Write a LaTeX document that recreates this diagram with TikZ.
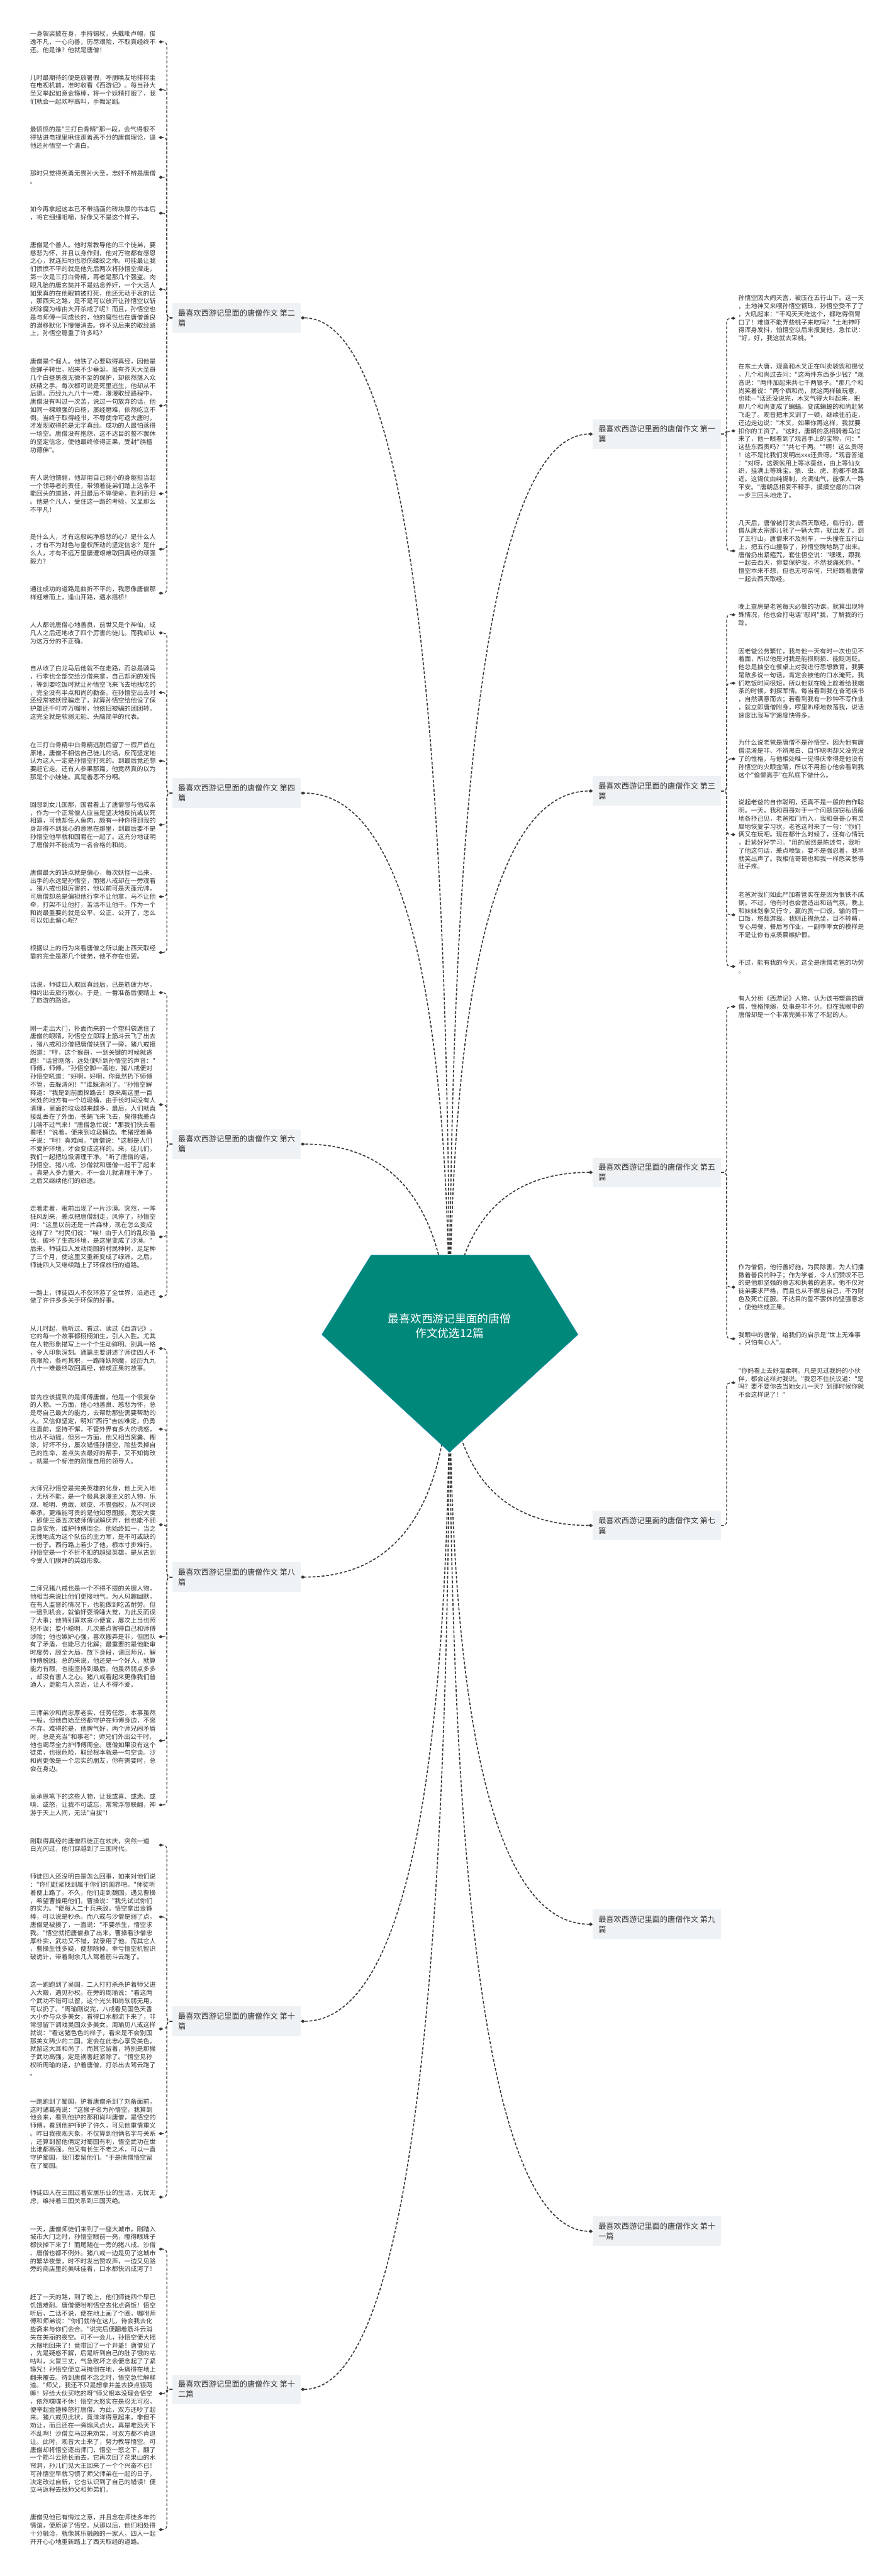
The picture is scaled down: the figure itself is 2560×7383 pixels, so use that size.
\documentclass[tikz,border=0pt]{standalone}
\usepackage{fontspec}
\newfontfamily\cjk{Noto Sans CJK SC}
\usepackage{tikz}
\usetikzlibrary{arrows.meta,calc,positioning}
\definecolor{HexTeal}{HTML}{00897B}
\definecolor{HexEdge}{HTML}{2B8FB8}
\definecolor{TagFill}{HTML}{EFF2F5}
\definecolor{InkGray}{HTML}{333333}
\definecolor{WireGray}{HTML}{3A3A3A}

\begin{document}
\begin{tikzpicture}[
  x=0.5pt,y=-0.5pt,
  every node/.style={font=\cjk},
  txt/.style={font=\cjk\fontsize{9pt}{11.5pt}\selectfont,text=InkGray,text width=180pt,
    align=left,inner xsep=4pt,inner ysep=0pt,anchor=west},
  tag/.style={font=\cjk\fontsize{11pt}{14.5pt}\selectfont,text=InkGray,fill=TagFill,
    align=left,inner xsep=8pt,minimum height=42.5pt},
  link/.style={WireGray,line width=1.5pt,dash pattern=on 4pt off 2.5pt,-{Diamond[length=6pt,width=5pt]}},
  twig/.style={WireGray,line width=1.1pt,dash pattern=on 4pt off 2.5pt,rounded corners=5pt,
    -{Diamond[length=6pt,width=4.5pt]}},
  quad/.style={to path={.. controls ($(\tikztostart)!.667!(\tikztostart|-\tikztotarget)$)
    and ($(\tikztotarget)!.667!(\tikztostart|-\tikztotarget)$) .. (\tikztotarget)}}
]
\fill[white] (0,0) rectangle (2560,7383);
\useasboundingbox (0,0) rectangle (2560,7383);
\coordinate (hub) at (1288,3880);

\node[tag,anchor=west] (art2) at (494,911) {最喜欢西游记里面的唐僧作文 第二\\篇};
\node[tag,anchor=west] (art4) at (494,2273) {最喜欢西游记里面的唐僧作文 第四\\篇};
\node[tag,anchor=west] (art6) at (494,3279) {最喜欢西游记里面的唐僧作文 第六\\篇};
\node[tag,anchor=west] (art8) at (494,4520) {最喜欢西游记里面的唐僧作文 第八\\篇};
\node[tag,anchor=west] (art10) at (494,5793) {最喜欢西游记里面的唐僧作文 第十\\篇};
\node[tag,anchor=west] (art12) at (494,6848) {最喜欢西游记里面的唐僧作文 第十\\二篇};
\node[tag,anchor=east] (art1) at (2066,1244) {最喜欢西游记里面的唐僧作文 第一\\篇};
\node[tag,anchor=east] (art3) at (2066,2267) {最喜欢西游记里面的唐僧作文 第三\\篇};
\node[tag,anchor=east] (art5) at (2066,3360) {最喜欢西游记里面的唐僧作文 第五\\篇};
\node[tag,anchor=east] (art7) at (2066,4372) {最喜欢西游记里面的唐僧作文 第七\\篇};
\node[tag,anchor=east] (art9) at (2066,5515) {最喜欢西游记里面的唐僧作文 第九\\篇};
\node[tag,anchor=east] (art11) at (2066,6395) {最喜欢西游记里面的唐僧作文 第十\\一篇};

\node[txt] (t2a) at (78,120) {一身袈裟披在身，手持锡杖，头戴毗卢帽，俊\\逸不凡，一心向善，历尽艰险，不取真经终不\\还。他是谁？他就是唐僧！};
\node[txt] (t2b) at (78,257) {儿时最期待的便是放暑假，呼朋唤友地排排坐\\在电视机前，准时收看《西游记》。每当孙大\\圣又举起如意金箍棒，将一个妖精打服了，我\\们就会一起欢呼高叫，手舞足蹈。};
\node[txt] (t2c) at (78,394) {最愤愤的是"三打白骨精"那一段，会气得恨不\\得钻进电视里揪住那善恶不分的唐僧理论，逼\\他还孙悟空一个清白。};
\node[txt] (t2d) at (78,508) {那时只觉得英勇无畏孙大圣，忠奸不辨是唐僧\\。};
\node[txt] (t2e) at (78,611) {如今再拿起这本已不带插画的砖块厚的书本后\\，将它细细咀嚼，好像又不是这个样子。};
\node[txt] (t2f) at (78,829) {唐僧是个善人。他时常教导他的三个徒弟，要\\慈悲为怀，并且以身作则，他对万物都有感恩\\之心，就连扫地也恐伤蝼蚁之命。可能最让我\\们愤愤不平的就是他先后两次将孙悟空撵走，\\第一次是三打白骨精，再者是那几个强盗。肉\\眼凡胎的唐玄奘并不是姑息养奸，一个大活人\\如果真的在他眼前被打死，他还无动于衷的话\\，那西天之路，是不是可以放开让孙悟空以斩\\妖除魔为缘由大开杀戒了呢？而且，孙悟空也\\是与师傅一同成长的，他的魔性也在唐僧善良\\的潜移默化下慢慢消去。你不见后来的取经路\\上，孙悟空稳重了许多吗？};
\node[txt] (t2g) at (78,1163) {唐僧是个倔人。他铁了心要取得真经，因他是\\金蝉子转世，招来不少垂涎。虽有齐天大圣哥\\几个白昼黑夜无微不至的保护，却依然落入众\\妖精之手。每次都可说是死里逃生，他却从不\\后退。历经九九八十一难，漫漫取经路程中，\\唐僧没有叫过一次苦，说过一句放弃的话，他\\如同一棵顽强的白杨，屡经磨难，依然屹立不\\倒。当终于取得经书，不辱使命可返大唐时，\\才发现取得的是无字真经。成功的人最怕落得\\一场空。唐僧没有抱怨，这不达目的誓不罢休\\的坚定信念，使他最终修得正果，受封"旃檀\\功德佛"。};
\node[txt] (t2h) at (78,1415) {有人说他懦弱，他却用自己弱小的身躯担当起\\一个领导者的责任，带领着徒弟们踏上这条不\\能回头的道路，并且最后不辱使命，胜利而归\\。他是个凡人，受住这一路的考验，又显那么\\不平凡！};
\node[txt] (t2i) at (78,1574) {是什么人，才有这般纯净慈悲的心？是什么人\\，才有不为财色与皇权所动的坚定信念？是什\\么人，才有不远万里屡遭艰难取回真经的顽强\\毅力？};
\node[txt] (t2j) at (78,1700) {通往成功的道路是曲折不平的，我愿像唐僧那\\样迎难而上，逢山开路，遇水搭桥！};

\node[txt] (t4a) at (78,1814) {人人都说唐僧心地善良，前世又是个神仙，成\\凡人之后还地收了四个厉害的徒儿。而我却认\\为这万分的不正确。};
\node[txt] (t4b) at (78,1985) {自从收了白龙马后他就不在走路，而总是骑马\\，行李也全部交给沙僧来拿，自己却闲的发慌\\，等到要吃饭时就让孙悟空飞来飞去地找吃的\\，完全没有半点和尚的勤奋。在孙悟空出去时\\还经常被妖怪骗走了，就算孙悟空给他设了保\\护罩还千叮咛万嘱咐，他依旧被骗的团团转。\\这完全就是软弱无能、头脑简单的代表。};
\node[txt] (t4c) at (78,2181) {在三打白骨精中白骨精逃脱后留了一假尸首在\\原地，唐僧不相信自己徒儿的话，反而坚定地\\认为这人一定是孙悟空打死的。到最后竟还想\\要赶它走。还有人参果那篇，他竟然真的以为\\那是个小娃娃。真是善恶不分啊。};
\node[txt] (t4d) at (78,2364) {回想到女儿国那，国君看上了唐僧想与他成亲\\，作为一个正常僧人应当是坚决地反抗或以死\\相逼，可他却任人鱼肉，颇有一种你得到我的\\身却得不到我心的意思在那里，到最后要不是\\孙悟空他早就和国君在一起了。这充分地证明\\了唐僧并不能成为一名合格的和尚。};
\node[txt] (t4e) at (78,2570) {唐僧最大的缺点就是偏心，每次妖怪一出来，\\出手的永远是孙悟空，而猪八戒却在一旁观看\\。猪八戒也挺厉害的，他以前可是天蓬元帅，\\可唐僧却总是偏袒他行李不让他拿，马不让他\\牵，打架不让他打，苦活不让他干。作为一个\\和尚最重要的就是公平、公正、公开了，怎么\\可以如此偏心呢？};
\node[txt] (t4f) at (78,2730) {根据以上的行为来看唐僧之所以能上西天取经\\靠的完全是那几个徒弟，他不存在也罢。};

\node[txt] (t6a) at (78,2845) {话说，师徒四人取回真经后，已是筋疲力尽，\\相约出去旅行散心。于是，一番准备后便踏上\\了旅游的路途。};
\node[txt] (t6b) at (78,3166) {刚一走出大门，扑面而来的一个塑料袋遮住了\\唐僧的眼睛，孙悟空立即踩上筋斗云飞了出去\\，猪八戒和沙僧把唐僧扶到了一旁，猪八戒报\\怨道："哼，这个猴哥，一到关键的时候就逃\\跑！"话音刚落，远处便听到孙悟空的声音："\\师傅，师傅。"孙悟空脚一落地，猪八戒便对\\孙悟空吼道："好啊，好啊，你竟然扔下师傅\\不管，去躲清闲！""谁躲清闲了。"孙悟空解\\释道："我是到前面探路去！原来离这里一百\\米处的地方有一个垃圾桶，由于长时间没有人\\清理，里面的垃圾越来越多，最后，人们就直\\接乱丢在了外面，苍蝇飞来飞去，臭得我差点\\儿喘不过气来！"唐僧急忙说："那我们快去看\\看吧！"说着，便来到垃圾桶边。老猪捏着鼻\\子说："呵！真难闻。"唐僧说："这都是人们\\不爱护环境，才会变成这样的。来，徒儿们，\\我们一起把垃圾清理干净。"听了唐僧的话，\\孙悟空、猪八戒、沙僧就和唐僧一起干了起来\\。真是人多力量大，不一会儿就清理干净了，\\之后又继续他们的旅途。};
\node[txt] (t6c) at (78,3545) {走着走着，眼前出现了一片沙漠。突然，一阵\\狂风刮来，差点把唐僧刮走，风停了，孙悟空\\问："这里以前还是一片森林，现在怎么变成\\这样了？"村民们说："唉！由于人们的乱砍滥\\伐，破坏了生态环境，是这里变成了沙漠。"\\后来，师徒四人发动周围的村民种树，足足种\\了三个月，使这里又重新变成了绿洲。之后，\\师徒四人又继续踏上了环保旅行的道路。};
\node[txt] (t6d) at (78,3716) {一路上，师徒四人不仅环游了全世界，沿途还\\做了许许多多关于环保的好事。};

\node[txt] (t8a) at (78,3865) {从儿时起，就听过、看过、读过《西游记》。\\它的每一个故事都栩栩如生，引人入胜。尤其\\在人物形象描写上一个个生动鲜明、别具一格\\，令人印象深刻。通篇主要讲述了师徒四人不\\畏艰险，各司其职，一路降妖除魔，经历九九\\八十一难最终取回真经，修成正果的故事。};
\node[txt] (t8b) at (78,4096) {首先应该提到的是师傅唐僧，他是一个很复杂\\的人物。一方面，他心地善良、慈悲为怀，总\\是尽自己最大的能力，去帮助那些需要帮助的\\人。又信仰坚定，明知"西行"吉凶难定，仍勇\\往直前，坚持不懈，不管外界有多大的诱惑，\\也从不动摇。但另一方面，他又相当窝囊、糊\\涂，好坏不分，屡次错怪孙悟空，险些丢掉自\\己的性命，差点失去最好的帮手，又不知悔改\\。就是一个标准的刚愎自用的领导人。};
\node[txt] (t8c) at (78,4370) {大师兄孙悟空是完美英雄的化身，他上天入地\\，无所不能，是一个极具浪漫主义的人物，乐\\观、聪明、勇敢、顽皮、不畏强权，从不阿谀\\奉承。更难能可贵的是他知恩图报，宽宏大度\\，即使三番五次被师傅误解厌弃，他也能不顾\\自身安危，维护师傅周全。他始终如一，当之\\无愧地成为这个队伍的主力军，是不可或缺的\\一份子。西行路上若少了他，根本寸步难行。\\孙悟空是一个不折不扣的超级英雄，是从古到\\今受人们膜拜的英雄形象。};
\node[txt] (t8d) at (78,4691) {二师兄猪八戒也是一个不得不提的关键人物，\\他相当来说比他们更接地气。为人风趣幽默，\\在有人监督的情况下，也能做到吃苦耐劳。但\\一逮到机会，就偷奸耍滑睡大觉，为此反而误\\了大事；他特别喜欢贪小便宜，屡次上当也照\\犯不误；耍小聪明，几次差点害得自己和师傅\\涉险；他也嫉妒心强，喜欢搬弄是非，但团队\\有了矛盾，也能尽力化解；最重要的是他能审\\时度势，顾全大局，放下身段，请回师兄，解\\师傅脱困。总的来说，他还是一个好人，就算\\能力有限，也能坚持到最后。他虽然弱点多多\\，却没有害人之心。猪八戒看起来更像我们普\\通人，更能与人亲近，让人不得不爱。};
\node[txt] (t8e) at (78,4989) {三师弟沙和尚忠厚老实，任劳任怨，本事虽然\\一般，但他自始至终都守护在师傅身边，不离\\不弃。难得的是，他脾气好，两个师兄闹矛盾\\时，总是充当"和事老"；师兄们外出公干时，\\他也竭尽全力护师傅周全。唐僧如果没有这个\\徒弟，也很危险，取经根本就是一句空谈。沙\\和尚更像是一个忠实的朋友，你有需要时，总\\会在身边。};
\node[txt] (t8f) at (78,5173) {吴承恩笔下的这些人物，让我或喜、或悲、或\\嗔、或怒，让我不可或忘，常常浮想联翩，神\\游于天上人间，无法"自拔"！};

\node[txt] (t10a) at (78,5288) {刚取得真经的唐僧四徒正在欢庆，突然一道\\白光闪过，他们穿越到了三国时代。};
\node[txt] (t10b) at (78,5494) {师徒四人还没明白是怎么回事，如来对他们说\\："你们赶紧找到属于你们的国界吧。"师徒听\\着便上路了。不久，他们走到魏国，遇见曹操\\，希望曹操用他们。曹操说："我先试试你们\\的实力。"便每人二十兵来敌。悟空拿出金箍\\棒，可以说是秒杀。而八戒与沙僧是弱了点，\\唐僧是被揍了，一直说："不要杀生，悟空求\\我。"悟空就把唐僧救了出来。曹操看沙僧忠\\厚朴实，武功又不错，就录用了他。而其它人\\，曹操生性多疑，便想除掉。幸亏悟空机智识\\破诡计，带着剩余几人驾着筋斗云跑了。};
\node[txt] (t10c) at (78,5815) {这一跑跑到了吴国，二人打打杀杀护着师父进\\入大殿，遇见孙权。在旁的周瑜说："看这两\\个武功不错可以留，这个光头和尚软弱无用，\\可以扔了。"周瑜刚说完，八戒看见国色天香\\大小乔与众多美女，看得口水都流下来了，非\\常想留下调戏吴国众多美女。周瑜见八戒这样\\就说："看这猪色色的样子，看来是不会别国\\那美女稀少的二国，定会在此忠心享受美色，\\就留这大耳和尚了，而其它留着，特别是那猴\\子武功高强，定是祸害赶紧除了。"悟空见孙\\权听周瑜的话，护着唐僧，打杀出去驾云跑了\\。};
\node[txt] (t10d) at (78,6115) {一跑跑到了蜀国，护着唐僧杀到了刘备面前，\\这时诸葛亮说："这猴子名为孙悟空，我算到\\他会来，看到他护的那和尚叫唐僧，是悟空的\\师傅，看到他护师护了许久，可见他重情重义\\。昨日我夜观天象，不仅算到他俩名字与关系\\，还算到留他俩定对蜀国有利，悟空武功在世\\比谁都高强。他又有长生不老之术，可以一直\\守护蜀国，我们要留他们。"于是唐僧悟空留\\在了蜀国。};
\node[txt] (t10e) at (78,6297) {师徒四人在三国过着安居乐业的生活，无忧无\\虑，维持着三国关系到三国灭绝。};

\node[txt] (t12a) at (78,6446) {一天，唐僧师徒们来到了一座大城市。刚踏入\\城市大门之时，孙悟空眼前一亮，瞪得眼珠子\\都快掉下来了！而尾随在一旁的猪八戒、沙僧\\、唐僧也都不例外。猪八戒一边是见了这城市\\的繁华夜景，时不时发出赞叹声，一边又见路\\旁的商店里的美味佳肴，口水都快流成河了！};
\node[txt] (t12b) at (78,6860) {赶了一天的路，到了晚上，他们师徒四个早已\\饥饿难耐。唐僧便吩咐悟空去化点斋饭！悟空\\听后，二话不说，便在地上画了个圈，嘱咐师\\傅和师弟说："你们就待在这儿，待会我去化\\些斋来与你们会合。"说完后便翻着筋斗云消\\失在美丽的夜空。可不一会儿，孙悟空便大摇\\大摆地回来了！竟带回了一个井盖！唐僧见了\\，先是疑惑不解，后是听到自己的肚子饿的咕\\咕叫，火冒三丈，气急败坏之余便念起了了紧\\箍咒！孙悟空便立马摊倒在地，头痛得在地上\\翻来覆去。待到唐僧不念之时，悟空急忙解释\\道。"师父，我还不只是想拿井盖去换点银两\\嘛！好给大伙买吃的呀"师父根本没理会悟空\\，依然喋喋不休！悟空大怒实在是忍无可忍，\\便举起金箍棒怒打唐僧。为此，双方还吵了起\\来。猪八戒见此状，竟洋洋得意起来，非但不\\劝让，而且还在一旁煽风点火。真是唯恐天下\\不乱啊！沙僧立马过来劝架，可双方都不肯退\\让。此时，观音大士来了，努力教导悟空。可\\唐僧却将悟空逐出师门，悟空一怒之下，翻了\\一个筋斗云扬长而去。它再次回了花果山的水\\帘洞，孙儿们见大王回来了一个个兴奋不已！\\可孙悟空早就习惯了师父师弟在一起的日子。\\决定改过自新，它也认识到了自己的错误！便\\立马返程去找师父和师弟们。};
\node[txt] (t12c) at (78,7250) {唐僧见他已有悔过之意，并且念在师徒多年的\\情谊，便原谅了悟空。从那以后，他们相处得\\十分融洽，就像其乐融融的一家人，四人一起\\开开心心地重新踏上了西天取经的道路。};

\node[txt] (t1a) at (2107,912) {孙悟空因大闹天宫，被压在五行山下。这一天\\，土地神又来喂孙悟空钢珠，孙悟空受不了了\\，大吼起来："干吗天天吃这个，都吃得倒胃\\口了！难道不能弄些桃子来吃吗？"土地神吓\\得浑身发抖，怕悟空以后来报复他，急忙说：\\"好，好，我这就去采桃。"};
\node[txt] (t1b) at (2107,1235) {在东土大唐，观音和木叉正在叫卖袈裟和锡仗\\，几个和尚过去问："这两件东西多少钱？"观\\音说："两件加起来共七千两银子。"那几个和\\尚笑着说："两个疯和尚，就这两样破玩意，\\也能—"话还没说完，木叉气得大叫起来，把\\那几个和尚变成了蝙蝠。变成蝙蝠的和尚赶紧\\飞走了。观音把木叉训了一顿，继续往前走，\\还边走边说："木叉，如果你再这样，我就要\\扣你的工资了。"这时，唐朝的丞相骑着马过\\来了，他一眼看到了观音手上的宝物，问："\\这些东西贵吗？""共七千两。""啊！这么贵呀\\！这不是比我们发明出xxx还贵呀。"观音答道\\："对呀，这袈裟用上等冰蚕丝，由上等仙女\\织，挂满上等珠宝。狼、虫、虎、豹都不敢靠\\近。这锡仗由纯锡制，充满仙气，能保人一路\\平安。"唐朝丞相爱不释手，摸摸空瘪的口袋\\一步三回头地走了。};
\node[txt] (t1c) at (2107,1579) {几天后，唐僧被打发去西天取经，临行前，唐\\僧从唐太宗那儿领了一辆大奔，就出发了。到\\了五行山，唐僧来不及刹车，一头撞在五行山\\上，把五行山撞裂了，孙悟空腾地跳了出来。\\唐僧扔出紧箍咒，套住悟空说："嘿嘿，跟我\\一起去西天，你要保护我，不然我痛死你。"\\悟空本来不想，但也无可奈何，只好跟着唐僧\\一起去西天取经。};

\node[txt] (t3a) at (2107,1762) {晚上查房是老爸每天必做的功课。就算出现特\\殊情况，他也会打电话"慰问"我，了解我的行\\踪。};
\node[txt] (t3b) at (2107,1958) {因老爸公务繁忙，我与他一天有时一次也见不\\着面，所以他是对我是能损则损、能贬则贬。\\他总是抽空在餐桌上对我进行思想教育，我要\\是敢多说一句话，肯定会被他的口水淹死。我\\们吃饭时间很短，所以他就在晚上趁着给我端\\茶的时候，刺探军情。每当看到我在奋笔疾书\\，自然满意而去；若看到我有一秒钟不写作业\\，就立即唐僧附身，啰里叭嗦地数落我，说话\\速度比我写字速度快得多。};
\node[txt] (t3c) at (2107,2175) {为什么说老爸是唐僧不是孙悟空，因为他有唐\\僧混淆是非、不辨黑白、自作聪明却又没完没\\了的性格，与他相处唯一觉得庆幸得是他没有\\孙悟空的火眼金睛，所以不用担心他会看到我\\这个"偷懒高手"在私底下做什么。};
\node[txt] (t3d) at (2107,2392) {说起老爸的自作聪明，还真不是一般的自作聪\\明。一天，我和哥哥对于一个问题窃窃私语般\\地各抒己见，老爸推门而入，我和哥哥心有灵\\犀地恢复学习状，老爸这时来了一句："你们\\俩又在玩吧。现在都什么时候了，还有心情玩\\，赶紧好好学习。"用的居然是陈述句，我听\\了他这句话，差点喷饭，要不是强忍着，我早\\就笑出声了。我相信哥哥也和我一样憋笑憋得\\肚子疼。};
\node[txt] (t3e) at (2107,2622) {老爸对我们如此严加看管实在是因为恨铁不成\\钢。不过，他有时也会营造出和谐气氛，晚上\\和妹妹划拳又行令，赢的赏一口饭，输的罚一\\口饭，悠哉游哉。我则正襟危坐，目不转睛，\\专心用餐，餐后写作业，一副乖乖女的模样是\\不是让你有点羡慕嫉妒恨。};
\node[txt] (t3f) at (2107,2770) {不过，能有我的今天，这全是唐僧老爸的功劳\\。};

\node[txt] (t5a) at (2107,2885) {有人分析《西游记》人物，认为该书塑造的唐\\僧，性格懦弱，处事是非不分。但在我眼中的\\唐僧却是一个非常完美非常了不起的人。};
\node[txt] (t5c) at (2107,3689) {作为僧侣，他行善好施，为民除害，为人们播\\撒着善良的种子；作为学者，令人们赞叹不已\\的是他那坚强的意志和执著的追求。他不仅对\\徒弟要求严格，而且也从不懈怠自己，不为财\\色及死亡征服。不达目的誓不罢休的坚强意念\\，使他终成正果。};
\node[txt] (t5d) at (2107,3837) {我眼中的唐僧，给我们的启示是"世上无难事\\，只怕有心人"。};

\node[txt] (t7a) at (2107,3963) {"你妈看上去好温柔啊。凡是见过我妈的小伙\\伴，都会这样对我说。"我忍不住抗议道："是\\吗？要不要你去当她女儿一天？到那时候你就\\不会这样说了！"};

\foreach \k in {a,b,c,d,e,f,g,h,i,j} \draw[twig] (art2.west) -- ++(-16,0) |- (t2\k.east);
\foreach \k in {a,b,c,d,e,f} \draw[twig] (art4.west) -- ++(-16,0) |- (t4\k.east);
\foreach \k in {a,b,c,d} \draw[twig] (art6.west) -- ++(-16,0) |- (t6\k.east);
\foreach \k in {a,b,c,d,e,f} \draw[twig] (art8.west) -- ++(-16,0) |- (t8\k.east);
\foreach \k in {a,b,c,d,e} \draw[twig] (art10.west) -- ++(-16,0) |- (t10\k.east);
\foreach \k in {a,b,c} \draw[twig] (art12.west) -- ++(-16,0) |- (t12\k.east);
\foreach \k in {a,b,c} \draw[twig] (art1.east) -- ++(16,0) |- (t1\k.west);
\foreach \k in {a,b,c,d,e,f} \draw[twig] (art3.east) -- ++(16,0) |- (t3\k.west);
\foreach \k in {a,c,d} \draw[twig] (art5.east) -- ++(16,0) |- (t5\k.west);
\draw[twig] (art7.east) -- ++(16,0) |- (t7a.west);

\foreach \n in {2,4,6,8,10,12} \draw[link] (hub) to[quad] (art\n.east);
\foreach \n in {1,3,5,7,9,11} \draw[link] (hub) to[quad] (art\n.west);

\filldraw[fill=HexTeal,draw=HexEdge,line width=0.5pt]
  (1063,3597) -- (1516,3597) -- (1656,3825) -- (1288,4162) -- (922,3825) -- cycle;
\node[font=\cjk\fontsize{16pt}{20.5pt}\selectfont,text=white,align=center] (root) at (1288,3800)
  {最喜欢西游记里面的唐僧\\作文优选12篇};
\end{tikzpicture}
\end{document}
